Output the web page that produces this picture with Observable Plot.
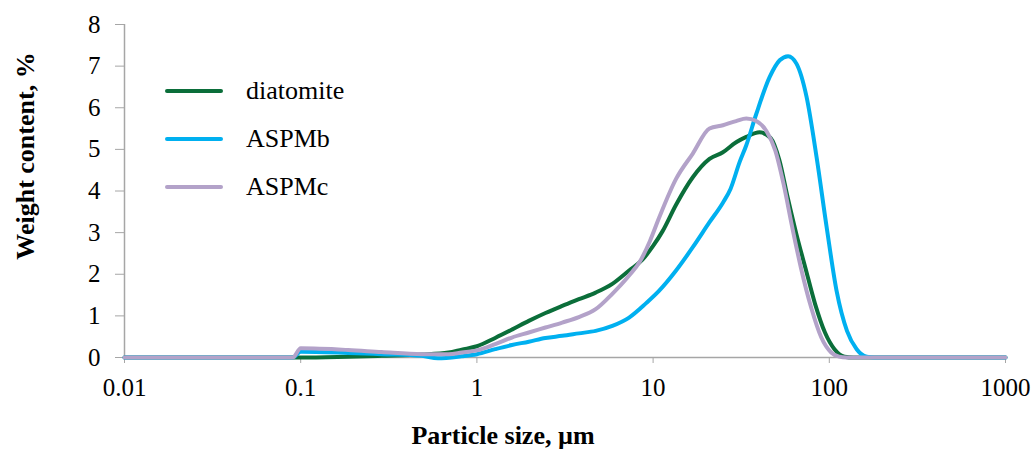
<!DOCTYPE html>
<html><head><meta charset="utf-8">
<script src="https://cdn.jsdelivr.net/npm/d3@7"></script>
<script src="https://cdn.jsdelivr.net/npm/@observablehq/plot@0.6"></script>
<style>
html,body{margin:0;padding:0;background:#fff;}
#wrap{position:relative;width:1033px;height:452px;overflow:hidden;font-family:"Liberation Serif","Times New Roman",serif;}
#legend{position:absolute;left:165px;top:67px;}
.row{display:flex;align-items:center;height:48px;}
.sw{width:58px;height:4px;border-radius:2px;margin-right:23px;}
.lb{font-size:26px;line-height:26px;color:#000;}
</style></head><body><div id="wrap"><div id="legend"></div></div>
<script>
const seriesNames = ["diatomite", "ASPMb", "ASPMc"];
const seriesColors = ["#0B6E3A", "#00B0F0", "#B3A2C9"];

const diatomiteSize = [0.01,0.09,0.1,0.186,0.288,0.487,0.69,0.82,1,1.27,1.58,1.97,2.45,3.05,3.79,4.72,5.87,7.31,8.7,10,11.3,13.5,16.8,20.9,24.9,29.6,33.8,40.2,46.5,52,58,65,73,83,94.5,107,122,137,1000];
const diatomiteWt   = [0,0,0,0.02,0.04,0.07,0.12,0.19,0.27,0.47,0.67,0.88,1.07,1.24,1.4,1.56,1.77,2.09,2.35,2.68,3.03,3.67,4.33,4.77,4.93,5.17,5.3,5.41,5.27,4.75,3.85,2.97,2.17,1.29,0.6,0.2,0.02,0,0];

const aspmbSize = [0.01,0.09,0.1,0.186,0.288,0.487,0.6,0.82,1,1.27,1.58,1.97,2.45,3.05,3.79,4.72,5.87,7.31,9.1,10.8,13.5,16.8,20.9,24.9,27.5,31,33.8,38.5,45.9,52.3,58.4,65.1,74.3,84.7,96.6,110,126,143,163,180,1000];
const aspmbWt   = [0,0,0.14,0.11,0.08,0.04,-0.02,0.03,0.08,0.2,0.3,0.38,0.47,0.52,0.58,0.64,0.76,0.96,1.3,1.6,2.09,2.65,3.25,3.72,4.05,4.7,5.1,5.85,6.74,7.14,7.24,7.06,6.26,4.81,3.13,1.6,0.64,0.2,0.02,0,0];

const aspmcSize = [0.01,0.09,0.1,0.186,0.288,0.487,0.69,0.82,1,1.27,1.58,1.97,2.45,3.05,3.79,4.72,5.87,7.31,8.4,9.6,10.8,13.5,16.8,20.9,24.9,29.6,33.8,38.5,44.3,49.4,55,61.6,68.9,78.9,90.1,102.5,113.6,125,1000];
const aspmcWt   = [0,0,0.22,0.18,0.13,0.08,0.08,0.12,0.17,0.32,0.48,0.6,0.72,0.84,0.97,1.16,1.53,1.97,2.3,2.8,3.35,4.29,4.9,5.5,5.58,5.68,5.74,5.68,5.42,4.97,4.17,3.13,2.17,1.2,0.48,0.12,0.02,0,0];

const xTicks = [0.01, 0.1, 1, 10, 100, 1000];
const xTickLabels = ["0.01", "0.1", "1", "10", "100", "1000"];
const yTicks = [0, 1, 2, 3, 4, 5, 6, 7, 8];
const xLabel = "Particle size, µm";
const yLabel = "Weight content, %";

const sizes = [diatomiteSize, aspmbSize, aspmcSize];
const weights = [diatomiteWt, aspmbWt, aspmcWt];
const data = [];
seriesNames.forEach((s, k) => sizes[k].forEach((x, i) => data.push({series: s, size: x, wt: weights[k][i]})));

const axisGray = "#A6A6A6";
const font = '"Liberation Serif","Times New Roman",serif';

const chart = Plot.plot({
  width: 1033,
  height: 452,
  marginLeft: 124,
  marginRight: 28,
  marginTop: 24,
  marginBottom: 95,
  style: {fontFamily: font, fontSize: "25px", color: "#000", background: "#fff"},
  x: {type: "log", domain: [0.01, 1000]},
  y: {domain: [0, 8]},
  color: {domain: seriesNames, range: seriesColors},
  marks: [
    Plot.ruleY([0], {stroke: axisGray, strokeWidth: 1.5}),
    Plot.ruleX([0.01], {stroke: axisGray, strokeWidth: 1.5}),
    Plot.axisX({ticks: xTicks, tickFormat: d => xTickLabels[xTicks.indexOf(d)], tickSize: 6, tickPadding: 15, stroke: axisGray, fill: "#000", label: null, fontSize: 25}),
    Plot.axisY({ticks: yTicks, tickFormat: d => String(d), tickSize: 9, tickPadding: 15, stroke: axisGray, fill: "#000", label: null, fontSize: 25}),
    Plot.line(data, {x: "size", y: "wt", z: "series", stroke: "series", strokeWidth: 4, curve: "monotone-x", strokeLinejoin: "round", strokeLinecap: "round"}),
    Plot.text([yLabel], {frameAnchor: "left", textAnchor: "middle", lineAnchor: "middle", dx: -99, dy: -35, rotate: -90, fontSize: 26, fontWeight: "bold", fill: "#000"}),
    Plot.text([xLabel], {frameAnchor: "bottom", textAnchor: "middle", lineAnchor: "middle", dx: -62, dy: 78, fontSize: 26, fontWeight: "bold", fill: "#000"})
  ]
});
const wrap = document.getElementById("wrap");
wrap.insertBefore(chart, wrap.firstChild);

const legend = document.getElementById("legend");
seriesNames.forEach((s, i) => {
  const row = document.createElement("div");
  row.className = "row";
  const sw = document.createElement("span");
  sw.className = "sw";
  sw.style.background = seriesColors[i];
  const lb = document.createElement("span");
  lb.className = "lb";
  lb.textContent = s;
  row.appendChild(sw); row.appendChild(lb);
  legend.appendChild(row);
});
</script></body></html>
